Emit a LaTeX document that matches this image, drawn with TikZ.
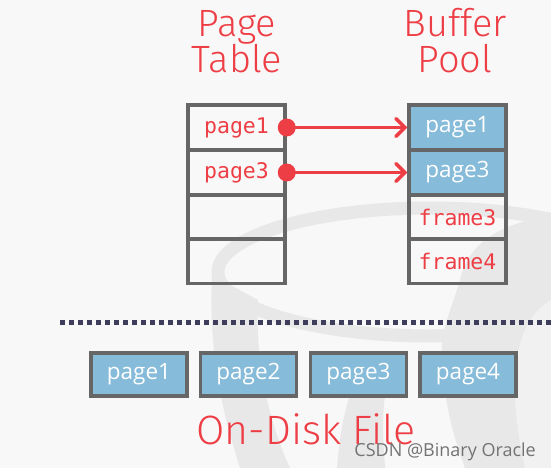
\documentclass[tikz,border=0pt]{standalone}
\usepackage{fontspec}
\setmainfont{Open Sans}
\newfontfamily\titlefont{Fira Sans Light}
\newfontfamily\cellmono{DejaVu Sans Mono}
\usetikzlibrary{arrows.meta}
\definecolor{ptred}{HTML}{EE3E45}
\definecolor{ptblue}{HTML}{86BBD9}
\definecolor{ptgray}{HTML}{666666}
\definecolor{ptbg}{HTML}{F8F8F8}
\definecolor{ptlogo}{HTML}{E8E8E8}
\definecolor{ptdots}{HTML}{3E3E5C}
\begin{document}
\begin{tikzpicture}[x=1pt,y=-1pt,
  cellbox/.style={draw=ptgray,line width=3.5pt,minimum width=97pt,minimum height=44.5pt,inner sep=0pt,text=ptred,font=\cellmono\fontsize{21.5}{23}\selectfont},
  fullbox/.style={draw=ptgray,line width=3.5pt,minimum width=97pt,minimum height=44.5pt,inner sep=0pt,fill=ptblue,text=white,font=\fontsize{22.5}{24}\selectfont},
  diskbox/.style={draw=ptgray,line width=3.5pt,minimum width=96pt,minimum height=43pt,inner sep=0pt,fill=ptblue,text=white,font=\fontsize{22.5}{24}\selectfont},
  ttl/.style={text=ptred,font=\titlefont\fontsize{38}{40}\selectfont,anchor=base,inner sep=0pt},
  ptr/.style={draw=ptred,line width=3.5pt,-{Straight Barb[length=9pt,width=18pt,line cap=round]}},
  dotend/.style={circle,fill=ptred,minimum size=18pt,inner sep=0pt}
]
\fill[ptbg] (0,0) rectangle (551,468);
\useasboundingbox (0,0) rectangle (551,468);
% faint background logo
\begin{scope}
\clip (0,0) rectangle (551,468);
\draw[ptlogo,line width=13pt] (430,272) ellipse[x radius=212,y radius=64];
\fill[ptlogo] (212,275) .. controls (208,360) and (225,420) .. (240,468) -- (290,468) .. controls (268,420) and (255,360) .. (258,300) -- cycle;
\fill[ptlogo] (337,468) .. controls (340,430) and (345,410) .. (350,395) -- (385,395) .. controls (382,420) and (383,440) .. (385,468) -- cycle;
\fill[ptlogo] (551,215) .. controls (500,225) and (470,240) .. (460,280) .. controls (448,320) and (440,330) .. (442,360) .. controls (445,410) and (455,440) .. (465,468) -- (551,468) -- cycle;
\fill[ptbg!60!ptlogo] (551,300) .. controls (515,320) and (505,380) .. (525,468) -- (551,468) -- cycle;
\end{scope}
% titles
\node[ttl] (t1) at (237,37) {Page};
\node[ttl] (t2) at (237,73) {Table};
\node[ttl] (t3) at (455,37) {Buffer};
\node[ttl] (t4) at (455,73) {Pool};
% page table
\node[cellbox] (pt1) at (236.5,127.5) {page1};
\node[cellbox] (pt2) at (236.5,172.5) {page3};
\node[cellbox] (pt3) at (236.5,217) {};
\node[cellbox] (pt4) at (236.5,261) {};
% buffer pool
\node[fullbox] (bp1) at (457.5,127.5) {page1};
\node[fullbox] (bp2) at (457.5,172.5) {page3};
\node[cellbox] (bp3) at (457.5,217) {frame3};
\node[cellbox] (bp4) at (457.5,261) {frame4};
% pointers
\node[dotend] (d1) at (pt1.east) {};
\node[dotend] (d2) at (pt2.east) {};
\draw[ptr] (d1.center) -- (bp1.west);
\draw[ptr] (d2.center) -- (bp2.west);
% divider
\coordinate (la) at (60,322);
\coordinate (lb) at (551,322);
\draw[ptdots,line width=5pt,dash pattern=on 5pt off 4pt] (la) -- (lb);
% disk pages
\node[diskbox] (dk1) at (139,374.5) {page1};
\node[diskbox] (dk2) at (248.5,374.5) {page2};
\node[diskbox] (dk3) at (358.5,374.5) {page3};
\node[diskbox] (dk4) at (468,374.5) {page4};
\node[text=ptred,font=\titlefont\fontsize{41}{42}\selectfont,anchor=base,inner sep=0pt] (odf) at (306,444) {On-Disk File};
% watermark
\node[text=black!55,font=\fontsize{18}{20}\selectfont,anchor=base east,inner sep=0pt] (wm) at (536,456) {CSDN @Binary Oracle};
\end{tikzpicture}
\end{document}
